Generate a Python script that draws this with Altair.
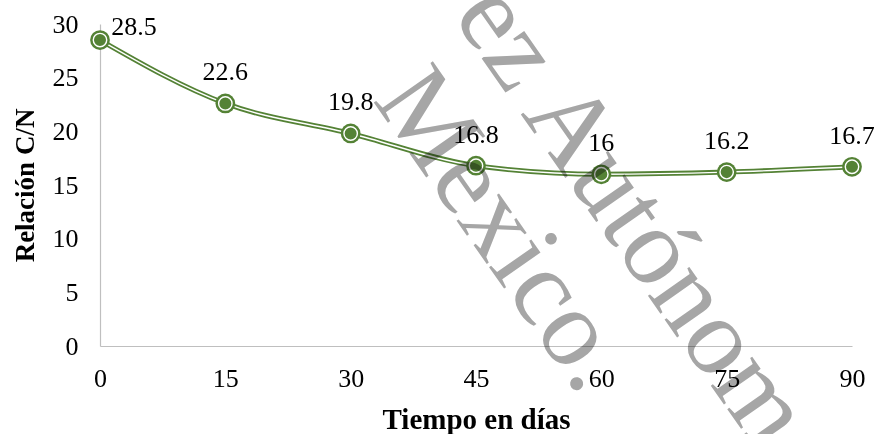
import altair as alt
import pandas as pd

# Tiempo de compostaje (días) y relación carbono/nitrógeno medida
dias = [0, 15, 30, 45, 60, 75, 90]
relacion_cn = [28.5, 22.6, 19.8, 16.8, 16, 16.2, 16.7]

# Líneas de la marca de agua
marca_agua = ["ez Autónom", "Mexico."]

df = pd.DataFrame({"dias": dias, "cn": relacion_cn})

VERDE = "#548235"
FUENTE = "Liberation Serif"
TAM = 26

x_enc = alt.X(
    "dias:Q",
    scale=alt.Scale(domain=[0, 90], nice=False, zero=False),
    axis=alt.Axis(
        values=dias,
        title="Tiempo en días",
        titleFont=FUENTE,
        titleFontSize=29,
        titleFontWeight="bold",
        titleColor="black",
        titleBaseline="alphabetic",
        titleY=82,
        labelFont=FUENTE,
        labelFontSize=TAM,
        labelColor="black",
        labelPadding=19,
        ticks=False,
        tickSize=0,
        grid=False,
        domainColor="#bfbfbf",
        domainWidth=1.2,
        labelFlush=False,
    ),
)
y_enc = alt.Y(
    "cn:Q",
    scale=alt.Scale(domain=[0, 30], nice=False),
    axis=alt.Axis(
        values=[0, 5, 10, 15, 20, 25, 30],
        title="Relación C/N",
        titleFont=FUENTE,
        titleFontSize=27,
        titleFontWeight="bold",
        titleColor="black",
        titleBaseline="alphabetic",
        titleX=-67,
        labelFont=FUENTE,
        labelFontSize=TAM,
        labelColor="black",
        labelPadding=22,
        ticks=False,
        tickSize=0,
        grid=False,
        domainColor="#bfbfbf",
        domainWidth=1.2,
        labelFlush=False,
    ),
)

base = alt.Chart(df).encode(x=x_enc, y=y_enc)

# Línea doble suavizada: trazo verde con franja blanca central
linea_verde = base.mark_line(interpolate="monotone", color=VERDE, strokeWidth=5)
linea_blanca = base.mark_line(interpolate="monotone", color="white", strokeWidth=1.4)

# Marcadores: círculo verde con anillo blanco interior
punto_ext = base.mark_point(
    shape="circle", filled=True, size=390, color=VERDE, opacity=1
)
punto_int = base.mark_point(
    shape="circle", filled=True, size=180, fill=VERDE, stroke="white",
    strokeWidth=1.4, opacity=1
)

fmt = ".1~f"
etiqueta_inicial = alt.Chart(df).transform_filter(alt.datum.dias == 0).mark_text(
    font=FUENTE, fontSize=TAM, color="black", baseline="middle", dx=34, dy=-13
).encode(x="dias:Q", y="cn:Q", text=alt.Text("cn:Q", format=fmt))

etiquetas = alt.Chart(df).transform_filter(alt.datum.dias > 0).mark_text(
    font=FUENTE, fontSize=TAM, color="black", baseline="middle", dy=-31
).encode(x="dias:Q", y="cn:Q", text=alt.Text("cn:Q", format=fmt))

# Marca de agua girada en gris, mezclada por multiplicación
def linea_marca(texto, px, py):
    return alt.Chart(alt.Data(values=[{}])).mark_text(
        text=texto,
        font=FUENTE,
        fontSize=110,
        angle=55,
        align="left",
        baseline="alphabetic",
        color="#a6a6a6",
        blend="multiply",
    ).encode(x=alt.value(px), y=alt.value(py))

marca1 = linea_marca(marca_agua[0], 352, -8)
marca2 = linea_marca(marca_agua[1], 272, 76)

chart = (
    alt.layer(
        linea_verde, linea_blanca, punto_ext, punto_int,
        etiqueta_inicial, etiquetas, marca1, marca2
    )
    .properties(
        width=752,
        height=322,
        autosize=alt.AutoSizeParams(type="none"),
        padding={"left": 100, "top": 24, "right": 27, "bottom": 88},
        background="white",
    )
    .configure_view(stroke=None)
)

chart.save("out.html", embed_options={"renderer": "svg", "actions": False})
